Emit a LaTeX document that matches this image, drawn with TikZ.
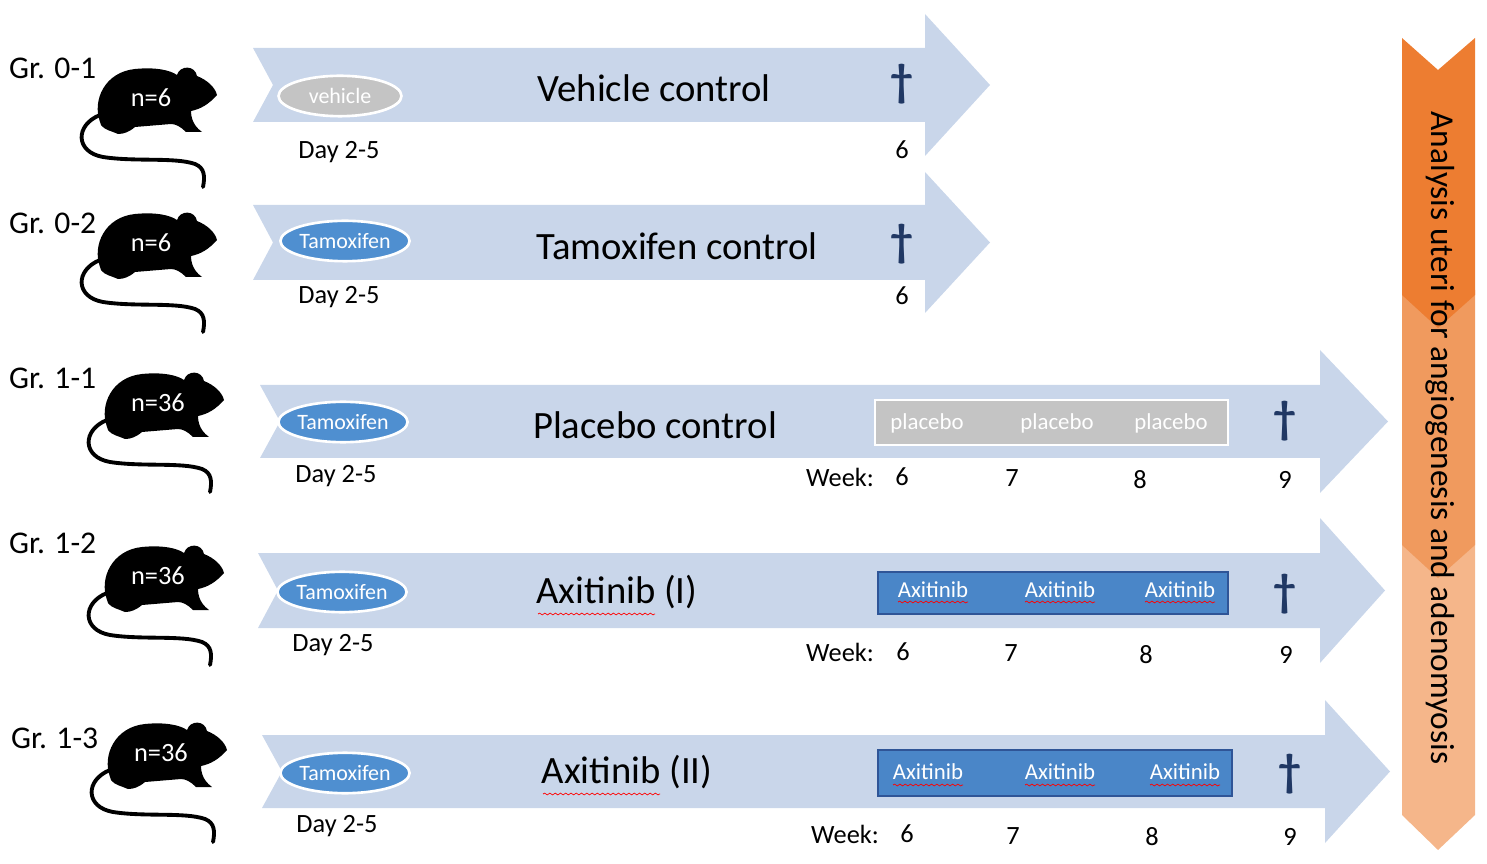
\documentclass[tikz,border=0pt]{standalone}
\usepackage{fontspec}
\setmainfont{Carlito}
\usetikzlibrary{decorations.pathmorphing,shapes.geometric}
\definecolor{barblue}{HTML}{C9D6EA}
\definecolor{tamblue}{HTML}{4F8FD0}
\definecolor{axblue}{HTML}{4A86C8}
\definecolor{axedge}{HTML}{2F5597}
\definecolor{dag}{HTML}{203864}
\definecolor{or1}{HTML}{ED7D31}
\definecolor{or2}{HTML}{F09A5E}
\definecolor{or3}{HTML}{F5B68A}
\definecolor{vgrey}{HTML}{C4C4C4}
\tikzset{
  grp/.style={font=\fontsize{18}{18}\selectfont, anchor=west},
  ttl/.style={font=\fontsize{22}{22}\selectfont},
  lbl/.style={font=\fontsize{15}{15}\selectfont},
  drug/.style={ellipse, minimum width=70pt, minimum height=23pt, inner sep=0pt, draw=white, line width=1.5pt, fill=tamblue, text=white, font=\fontsize{12.5}{12.5}\selectfont},
  dagger/.style={text=dag, font=\fontsize{26}{26}\selectfont\bfseries},
  squig/.style={red, decorate, decoration={snake, amplitude=0.5pt, segment length=3pt}, line width=0.4pt},
  ncount/.style={text=white, font=\fontsize{15}{15}\selectfont},
}
\newcommand{\mouse}[3]{% x y count
 \begin{scope}[shift={(#1,#2)}]
  \fill[black] (-55,22) .. controls (-63,0) and (-50,-28) .. (-20,-31)
    .. controls (0,-33) and (15,-30) .. (22,-25) .. controls (25,-35) and (40,-35) .. (42,-24)
    .. controls (52,-20) and (60,-13) .. (62,-5) .. controls (54,4) and (46,9) .. (36,11)
    .. controls (36,23) and (43,29) .. (47,32) -- (31,32) .. controls (26,27) and (21,24) .. (16,24)
    -- (-20,27) .. controls (-26,32) and (-31,34) .. (-37,34) -- (-42,32) .. controls (-48,30) and (-55,27) .. (-55,22) -- cycle;
  \draw[black, line width=2.2pt, line cap=round] (-55,15) .. controls (-80,25) and (-80,52) .. (-52,57)
    .. controls (-20,62) and (20,57) .. (40,64) .. controls (50,68) and (50,77) .. (48,87);
  \node[ncount] at (-4,-2) {#3};
 \end{scope}}
\newcommand{\barrow}[6]{% xl xr ytop ybot headtop tipx
 \fill[barblue] (#1,#3) -- (#2,#3) -- (#2,#5) -- (#6,{(#3+#4)/2}) -- (#2,{#5+2*((#3+#4)/2-#5)}) -- (#2,#4) -- (#1,#4) -- ({#1+20},{(#3+#4)/2}) -- cycle;}
\begin{document}
\begin{tikzpicture}[x=0.02cm,y=-0.02cm]
\useasboundingbox (0,0) rectangle (1487,864);
% orange chevrons
\fill[or3] (1402,540) -- (1438,572) -- (1475,540) -- (1475,815) -- (1438,850) -- (1402,815) -- cycle;
\fill[or2] (1402,290) -- (1438,322) -- (1475,290) -- (1475,545) -- (1438,578) -- (1402,545) -- cycle;
\fill[or1] (1402,38) -- (1438,70) -- (1475,38) -- (1475,295) -- (1438,328) -- (1402,295) -- cycle;
\node[rotate=-90, font=\fontsize{19}{19}\selectfont] (ana) at (1440,438) {Analysis uteri for angiogenesis and adenomyosis};
% blue arrows
\barrow{253}{925}{48}{122}{14}{990}
\barrow{253}{925}{205}{280}{172}{990}
\barrow{260}{1320}{385}{458}{350}{1388}
\barrow{258}{1320}{553}{628}{518}{1385}
\barrow{262}{1325}{735}{808}{700}{1390}
% groups
\node[grp] (g1) at (3,68) {Gr. 0-1};
\node[grp] (g2) at (3,223) {Gr. 0-2};
\node[grp] (g3) at (3,378) {Gr. 1-1};
\node[grp] (g4) at (3,543) {Gr. 1-2};
\node[grp] (g5) at (5,738) {Gr. 1-3};
\mouse{155}{100}{n=6}
\mouse{155}{245}{n=6}
\mouse{162}{405}{n=36}
\mouse{162}{578}{n=36}
\mouse{165}{755}{n=36}
% drugs
\node[drug, fill=vgrey] (d1) at (340,96) {vehicle};
\node[drug] (d2) at (345,241) {Tamoxifen};
\node[drug] (d3) at (343,422) {Tamoxifen};
\node[drug] (d4) at (342,592) {Tamoxifen};
\node[drug] (d5) at (345,773) {Tamoxifen};
\node[lbl] at (339,152) {Day 2-5};
\node[lbl] at (339,297) {Day 2-5};
\node[lbl] at (336,476) {Day 2-5};
\node[lbl] at (333,645) {Day 2-5};
\node[lbl] at (337,826) {Day 2-5};
% titles
\node[ttl] (t1) at (654,88) {Vehicle control};
\node[ttl] (t2) at (677,246) {Tamoxifen control};
\node[ttl] (t3) at (655,425) {Placebo control};
\node[ttl] (t4) at (617,592) {Axitinib (I)};
\node[ttl] (t5) at (627,772) {Axitinib (II)};
\draw[squig] (538,614) -- (655,614);
\draw[squig] (543,794) -- (660,794);
% daggers and numbers
\node[dagger] at (902,84) {†};
\node[lbl] at (902,150) {6};
\node[dagger] at (902,244) {†};
\node[lbl] at (902,296) {6};
\node[dagger] at (1285,421) {†};
\node[dagger] at (1285,594) {†};
\node[dagger] at (1290,774) {†};
% week rows
\node[lbl] at (840,477) {Week:}; \node[lbl] at (902,477) {6}; \node[lbl] at (1012,478) {7}; \node[lbl] at (1140,480) {8}; \node[lbl] at (1285,480) {9};
\node[lbl] at (840,652) {Week:}; \node[lbl] at (903,652) {6}; \node[lbl] at (1011,653) {7}; \node[lbl] at (1146,655) {8}; \node[lbl] at (1286,655) {9};
\node[lbl] at (845,834) {Week:}; \node[lbl] at (907,834) {6}; \node[lbl] at (1013,836) {7}; \node[lbl] at (1152,837) {8}; \node[lbl] at (1290,837) {9};
% placebo box
\fill[vgrey, draw=white, line width=1.5pt] (875,400) rectangle (1228,445);
\foreach \x in {927,1057,1171} \node[text=white, font=\fontsize{13}{13}\selectfont] at (\x,423) {placebo};
% axitinib boxes
\fill[axblue, draw=axedge, line width=1.2pt] (878,572) rectangle (1228,614);
\foreach \x in {933,1060,1180} {\node[text=white, font=\fontsize{13}{13}\selectfont] at (\x,590) {Axitinib}; \draw[squig] (\x-35,602) -- (\x+35,602);}
\fill[axblue, draw=axedge, line width=1.2pt] (878,750) rectangle (1232,796);
\foreach \x in {928,1060,1185} {\node[text=white, font=\fontsize{13}{13}\selectfont] at (\x,772) {Axitinib}; \draw[squig] (\x-35,785) -- (\x+35,785);}
\end{tikzpicture}
\end{document}
